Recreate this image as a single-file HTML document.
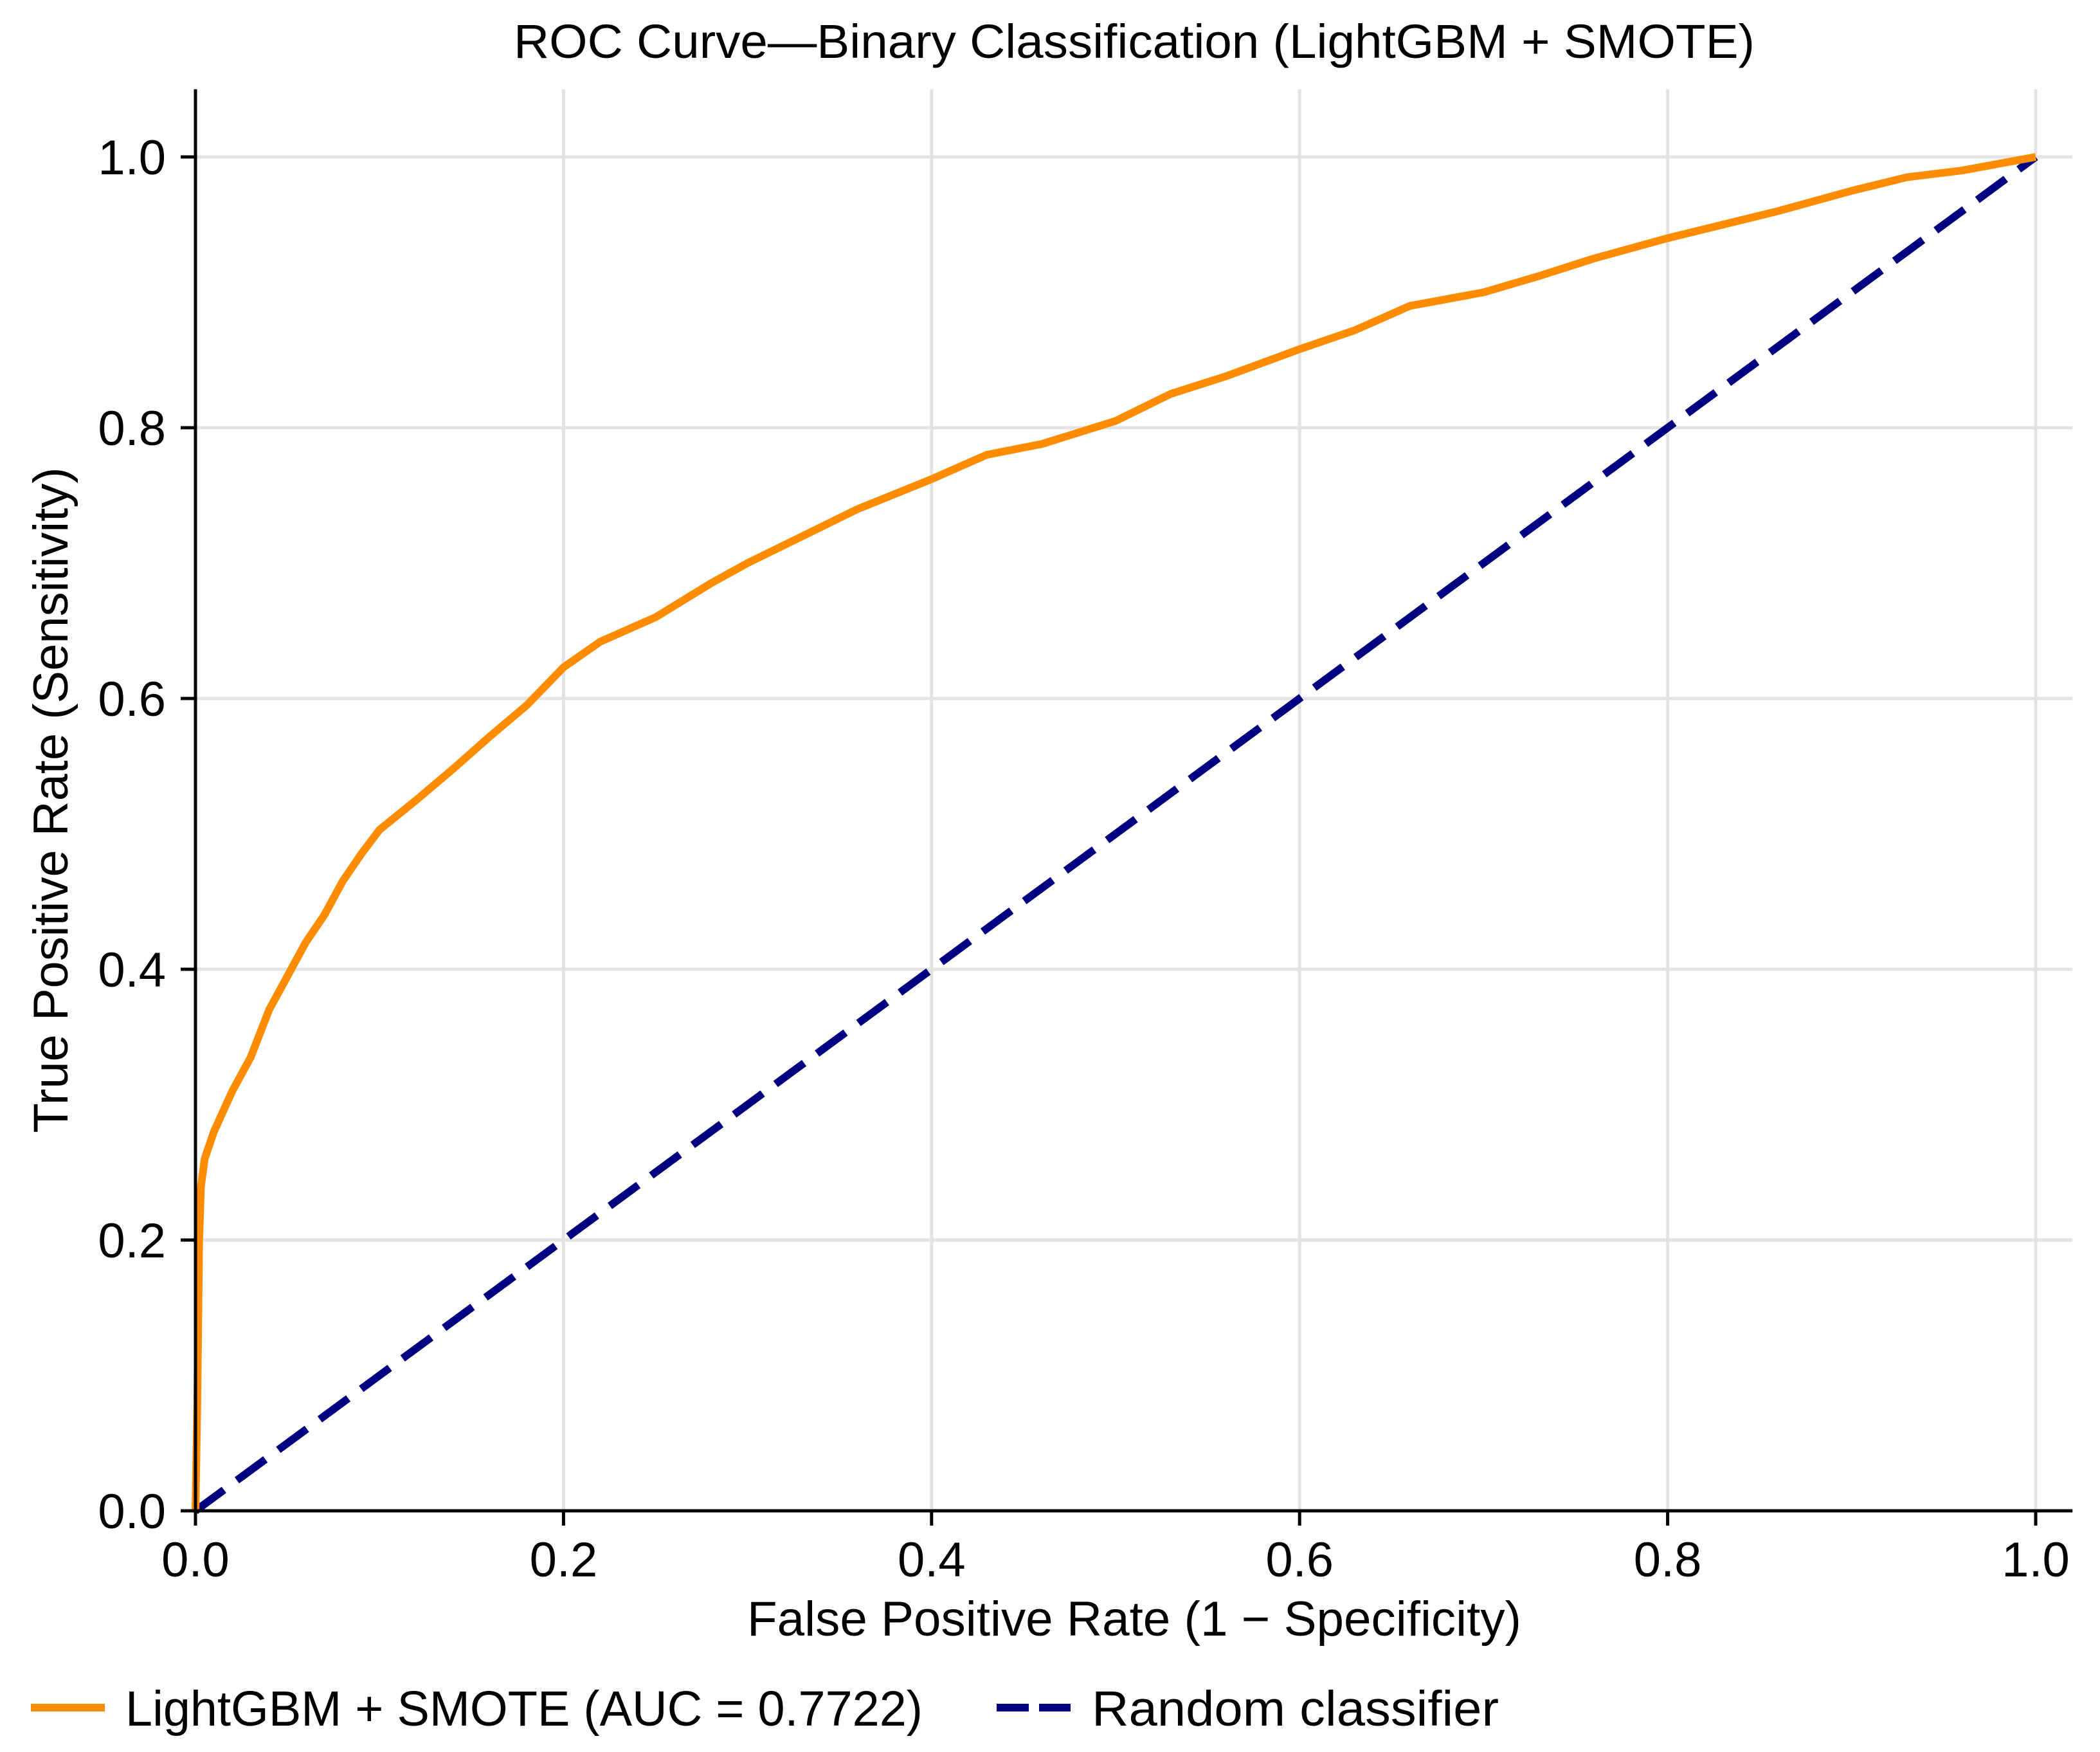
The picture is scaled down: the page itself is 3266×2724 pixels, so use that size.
<!DOCTYPE html>
<html><head><meta charset="utf-8"><style>
html,body{margin:0;padding:0;background:#fff;}
svg{display:block;}
text{font-family:"Liberation Sans",sans-serif;fill:#000;}
</style></head><body>
<svg id="chart" width="3266" height="2724" viewBox="0 0 3266 2724" xmlns="http://www.w3.org/2000/svg">
<rect x="0" y="0" width="3266" height="2724" fill="#fff"/>
<g id="grid"></g>
<g id="series"></g>
<g id="axes"></g>
<text x="1764" y="90" text-anchor="middle" font-size="74" textLength="1930" lengthAdjust="spacingAndGlyphs">ROC Curve—Binary Classification (LightGBM + SMOTE)</text>
<text x="1764" y="2543" text-anchor="middle" font-size="76" textLength="1204" lengthAdjust="spacingAndGlyphs">False Positive Rate (1 − Specificity)</text>
<text transform="translate(105,1244) rotate(-90)" text-anchor="middle" font-size="76" textLength="1035" lengthAdjust="spacingAndGlyphs">True Positive Rate (Sensitivity)</text>
<g>
<g>
<line x1="48" y1="2655" x2="163" y2="2655" stroke="#ff8c00" stroke-width="12"/>
<text x="195" y="2683" font-size="77" textLength="1240" lengthAdjust="spacingAndGlyphs">LightGBM + SMOTE (AUC = 0.7722)</text>
</g>
<g>
<line x1="1550" y1="2655" x2="1665" y2="2655" stroke="#000080" stroke-width="12" stroke-dasharray="50,16"/>
<text x="1698" y="2683" font-size="77" textLength="633" lengthAdjust="spacingAndGlyphs">Random classifier</text>
</g>
</g>
</svg>
<script>
const fpr = [0,0.001,0.002,0.003,0.005,0.01,0.02,0.03,0.04,0.05,0.06,0.07,0.08,0.09,0.1,0.12,0.14,0.16,0.18,0.2,0.22,0.25,0.28,0.3,0.33,0.36,0.4,0.43,0.46,0.5,0.53,0.56,0.6,0.63,0.66,0.7,0.73,0.76,0.8,0.83,0.86,0.9,0.93,0.96,1];
const tpr = [0,0.08,0.2,0.24,0.26,0.28,0.31,0.335,0.37,0.395,0.42,0.44,0.465,0.485,0.503,0.525,0.548,0.572,0.595,0.623,0.642,0.66,0.685,0.7,0.72,0.74,0.762,0.78,0.788,0.805,0.825,0.838,0.858,0.872,0.89,0.9,0.912,0.925,0.94,0.95,0.96,0.975,0.985,0.99,1];
const randomX = [0,1];
const randomY = [0,1];
const xTicks = [0,0.2,0.4,0.6,0.8,1.0];
const yTicks = [0,0.2,0.4,0.6,0.8,1.0];
const xTickLabels = ["0.0","0.2","0.4","0.6","0.8","1.0"];
const yTickLabels = ["0.0","0.2","0.4","0.6","0.8","1.0"];

const X0=304, X1=3166, Y0=2349, Y1=244;
const sx = v => X0 + v*(X1-X0);
const sy = v => Y0 - v*(Y0-Y1);
const NS="http://www.w3.org/2000/svg";
const grid=document.getElementById('grid'), series=document.getElementById('series'), axes=document.getElementById('axes');
const XR=sx(1.02), YT=sy(1.05);

xTicks.forEach((t,i)=>{
  if(t>0){const g=document.createElementNS(NS,'line');
  g.setAttribute('x1',sx(t));g.setAttribute('x2',sx(t));g.setAttribute('y1',Y0);g.setAttribute('y2',YT);
  g.setAttribute('stroke','#e3e3e3');g.setAttribute('stroke-width','5');
  
  
  grid.appendChild(g);}
  const tk=document.createElementNS(NS,'line');
  tk.setAttribute('x1',sx(t));tk.setAttribute('x2',sx(t));tk.setAttribute('y1',Y0);tk.setAttribute('y2',Y0+23);
  tk.setAttribute('stroke','#000');tk.setAttribute('stroke-width','5');
  
  
  axes.appendChild(tk);
  const tx=document.createElementNS(NS,'text');
  tx.setAttribute('x',sx(t));tx.setAttribute('y',2451);tx.setAttribute('text-anchor','middle');tx.setAttribute('font-size','76');
  tx.textContent=xTickLabels[i];
  
  
  axes.appendChild(tx);
});
yTicks.forEach((t,i)=>{
  if(t>0){const g=document.createElementNS(NS,'line');
  g.setAttribute('x1',X0);g.setAttribute('x2',XR);g.setAttribute('y1',sy(t));g.setAttribute('y2',sy(t));
  g.setAttribute('stroke','#e3e3e3');g.setAttribute('stroke-width','5');
  
  
  grid.appendChild(g);}
  const tk=document.createElementNS(NS,'line');
  tk.setAttribute('x1',X0-23);tk.setAttribute('x2',X0);tk.setAttribute('y1',sy(t));tk.setAttribute('y2',sy(t));
  tk.setAttribute('stroke','#000');tk.setAttribute('stroke-width','5');
  
  
  axes.appendChild(tk);
  const tx=document.createElementNS(NS,'text');
  tx.setAttribute('x',258);tx.setAttribute('y',sy(t)+27);tx.setAttribute('text-anchor','end');tx.setAttribute('font-size','76');
  tx.textContent=yTickLabels[i];
  
  
  axes.appendChild(tx);
});
const sp1=document.createElementNS(NS,'line');
sp1.setAttribute('x1',X0);sp1.setAttribute('x2',X0);sp1.setAttribute('y1',YT);sp1.setAttribute('y2',Y0+2);
sp1.setAttribute('stroke','#000');sp1.setAttribute('stroke-width','5');


axes.appendChild(sp1);
const sp2=document.createElementNS(NS,'line');
sp2.setAttribute('x1',X0-2);sp2.setAttribute('x2',XR);sp2.setAttribute('y1',Y0);sp2.setAttribute('y2',Y0);
sp2.setAttribute('stroke','#000');sp2.setAttribute('stroke-width','5');


axes.appendChild(sp2);

const rnd=document.createElementNS(NS,'polyline');
rnd.setAttribute('points',randomX.map((v,i)=>sx(v)+','+sy(randomY[i])).join(' '));
rnd.setAttribute('fill','none');rnd.setAttribute('stroke','#000080');rnd.setAttribute('stroke-width','12');rnd.setAttribute('stroke-dasharray','55,25');


series.appendChild(rnd);

const roc=document.createElementNS(NS,'polyline');
roc.setAttribute('points',fpr.map((v,i)=>sx(v)+','+sy(tpr[i])).join(' '));
roc.setAttribute('fill','none');roc.setAttribute('stroke','#ff8c00');roc.setAttribute('stroke-width','12');roc.setAttribute('stroke-linejoin','round');


series.appendChild(roc);
</script>
</body></html>
